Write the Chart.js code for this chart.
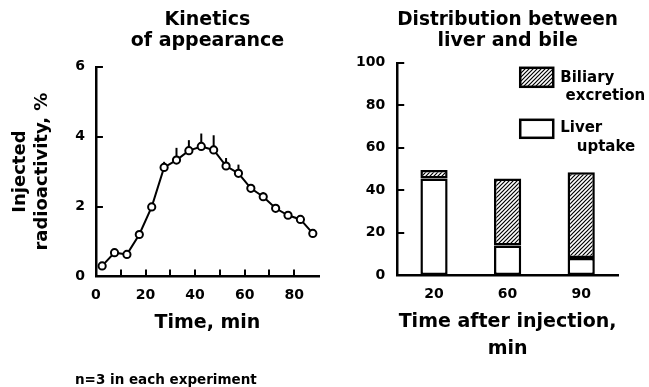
<!DOCTYPE html>
<html>
<head>
<meta charset="utf-8">
<script src="https://cdn.jsdelivr.net/npm/chart.js@4.4.1/dist/chart.umd.min.js"></script>
<style>
  html,body{margin:0;padding:0;background:#fff;}
  body{width:649px;height:387px;position:relative;overflow:hidden;}
  #kin{position:absolute;left:0;top:0;}
  #dist{position:absolute;left:330px;top:0;}
  #note{position:absolute;left:75px;top:371px;font:bold 13.5px "DejaVu Sans",sans-serif;color:#000;white-space:nowrap;}
</style>
</head>
<body>
<canvas id="kin" width="330" height="387"></canvas>
<canvas id="dist" width="319" height="387"></canvas>
<div id="note">n=3 in each experiment</div>
<script>
// kinetics of appearance (left panel)
const kinTime  = [2.5, 7.5, 12.5, 17.5, 22.5, 27.5, 32.5, 37.5, 42.5, 47.5, 52.5, 57.5, 62.5, 67.5, 72.5, 77.5, 82.5, 87.5];
const kinValue = [0.30, 0.68, 0.63, 1.20, 1.99, 3.12, 3.33, 3.60, 3.72, 3.62, 3.16, 2.95, 2.52, 2.28, 1.95, 1.75, 1.63, 1.23];
const kinErr   = [0, 0, 0, 0, 0, 0.16, 0.35, 0.30, 0.37, 0.42, 0.23, 0.25, 0, 0.13, 0, 0, 0, 0];

// distribution between liver and bile (right panel)
const distLabels = ['20', '60', '90'];
const liverUptake = [45.5, 14, 8];
const biliaryExcretion = [4, 31.5, 40.5];

const FONT = '"DejaVu Sans", sans-serif';
const INK = '#000';

function hatch(){
  const c = document.createElement('canvas'); c.width = 4; c.height = 4;
  const g = c.getContext('2d');
  g.fillStyle = '#fff'; g.fillRect(0,0,4,4);
  g.strokeStyle = INK; g.lineWidth = 1.2;
  g.beginPath();
  g.moveTo(0,4); g.lineTo(4,0);
  g.moveTo(-1,1); g.lineTo(1,-1);
  g.moveTo(3,5); g.lineTo(5,3);
  g.stroke();
  return g.createPattern(c, 'repeat');
}

// short tick marks drawn inside the plot, like the original figure
const inTicks = {
  id: 'inTicks',
  afterDraw(chart, args, opts){
    const ctx = chart.ctx, ca = chart.chartArea, len = opts.len || 7;
    ctx.save(); ctx.strokeStyle = INK; ctx.lineWidth = 2; ctx.lineCap = 'butt';
    (opts.axes || []).forEach(id=>{
      const s = chart.scales[id];
      s.ticks.forEach(t=>{
        if(t.value === s.min) return;
        if(s.isHorizontal() && t.value === s.max) return;
        const p = Math.round(s.getPixelForValue(t.value));
        ctx.beginPath();
        if(s.isHorizontal()){ ctx.moveTo(p, ca.bottom); ctx.lineTo(p, ca.bottom - len); }
        else { ctx.moveTo(ca.left, p); ctx.lineTo(ca.left + len, p); }
        ctx.stroke();
      });
    });
    ctx.restore();
  }
};

// upward-only error bars, drawn under the open circles
const errBars = {
  id: 'errBars',
  beforeDatasetsDraw(chart){
    const ctx = chart.ctx, x = chart.scales.x, y = chart.scales.y;
    ctx.save(); ctx.strokeStyle = INK; ctx.lineWidth = 2;
    kinTime.forEach((t,i)=>{
      if(!kinErr[i]) return;
      const px = x.getPixelForValue(t);
      ctx.beginPath();
      ctx.moveTo(px, y.getPixelForValue(kinValue[i]));
      ctx.lineTo(px, y.getPixelForValue(kinValue[i] + kinErr[i]));
      ctx.stroke();
    });
    ctx.restore();
  }
};

// legend box + two-line label, placed at the upper right of the plot
const sideLegend = {
  id: 'sideLegend',
  afterDraw(chart){
    const ctx = chart.ctx, ca = chart.chartArea;
    const rows = [
      {ds: chart.data.datasets[1], y: ca.top + 5,  h: 19, l1: ca.top + 15, l2: ca.top + 33, r2: ca.left + 248},
      {ds: chart.data.datasets[0], y: ca.top + 57, h: 18, l1: ca.top + 65, l2: ca.top + 84, r2: ca.left + 238}
    ];
    ctx.save();
    rows.forEach(r=>{
      ctx.fillStyle = r.ds.backgroundColor;
      ctx.fillRect(ca.left + 123, r.y, 33, r.h);
      ctx.strokeStyle = INK; ctx.lineWidth = 2.5;
      ctx.strokeRect(ca.left + 123, r.y, 33, r.h);
      const words = r.ds.label.split(' ');
      ctx.fillStyle = INK; ctx.font = 'bold 15px ' + FONT; ctx.textBaseline = 'middle';
      ctx.textAlign = 'left';  ctx.fillText(words[0], ca.left + 163, r.l1);
      ctx.textAlign = 'right'; ctx.fillText(words[1], r.r2, r.l2);
    });
    ctx.restore();
  }
};

const tickFont = {family: FONT, size: 14, weight: 'bold'};
const titleFont = {family: FONT, size: 19, weight: 'bold', lineHeight: 1.1};

new Chart(document.getElementById('kin'), {
  type: 'line',
  data: {
    datasets: [{
      data: kinTime.map((t,i)=>({x: t, y: kinValue[i]})),
      borderColor: INK, borderWidth: 2, tension: 0,
      pointRadius: 3.6, pointBorderWidth: 2,
      pointBackgroundColor: '#fff', pointBorderColor: INK
    }]
  },
  options: {
    responsive: false, animation: false, clip: false,
    layout: {padding: {left: 10, top: 5, right: 3.6, bottom: 53}},
    plugins: {
      legend: {display: false}, tooltip: {enabled: false},
      title: {display: true, fullSize: false, text: ['Kinetics', 'of appearance'], color: INK,
              font: titleFont, padding: {top: 5, bottom: 15}},
      inTicks: {axes: ['x', 'y'], len: 7}
    },
    scales: {
      x: {
        type: 'linear', min: 0, max: 90,
        grid: {display: false, drawTicks: false},
        border: {display: true, color: INK, width: 2.5},
        ticks: {stepSize: 10, color: INK, font: tickFont, padding: 11, maxRotation: 0,
                callback: v => (v % 20 === 0 && v < 90) ? v : ''},
        title: {display: true, text: 'Time, min', color: INK,
                font: {family: FONT, size: 19, weight: 'bold', lineHeight: 1.2}, padding: {top: -4, bottom: 0}}
      },
      y: {
        min: 0, max: 6,
        grid: {display: false, drawTicks: false},
        border: {display: true, color: INK, width: 2.5},
        ticks: {stepSize: 2, color: INK, font: tickFont, padding: 11},
        title: {display: true, text: ['Injected', 'radioactivity, %'], color: INK,
                font: {family: FONT, size: 18, weight: 'bold', lineHeight: 1.2}, padding: {top: 0, bottom: 11}}
      }
    }
  },
  plugins: [inTicks, errBars]
});

new Chart(document.getElementById('dist'), {
  type: 'bar',
  data: {
    labels: distLabels,
    datasets: [
      {label: 'Liver uptake', data: liverUptake, backgroundColor: '#fff',
       borderColor: INK, borderWidth: 2.5, borderSkipped: false},
      {label: 'Biliary excretion', data: biliaryExcretion, backgroundColor: hatch(),
       borderColor: INK, borderWidth: 2.5, borderSkipped: false}
    ]
  },
  options: {
    responsive: false, animation: false,
    barPercentage: 0.37, categoryPercentage: 1,
    layout: {padding: {left: 14, top: 5, right: 31, bottom: 24}},
    plugins: {
      legend: {display: false}, tooltip: {enabled: false},
      title: {display: true, fullSize: false, text: ['Distribution between', 'liver and bile'], color: INK,
              font: titleFont, padding: {top: 5, bottom: 11}},
      inTicks: {axes: ['y'], len: 7}
    },
    scales: {
      x: {
        stacked: true,
        grid: {display: false, drawTicks: false},
        border: {display: true, color: INK, width: 2.5},
        ticks: {color: INK, font: tickFont, padding: 11},
        title: {display: true, text: ['Time after injection,', 'min'], color: INK,
                font: {family: FONT, size: 19, weight: 'bold', lineHeight: 1.45}, padding: {top: -6, bottom: 0}}
      },
      y: {
        stacked: true, min: 0, max: 100,
        grid: {display: false, drawTicks: false},
        border: {display: true, color: INK, width: 2.5},
        ticks: {stepSize: 20, color: INK, font: tickFont, padding: 12}
      }
    }
  },
  plugins: [inTicks, sideLegend]
});
</script>
</body>
</html>
